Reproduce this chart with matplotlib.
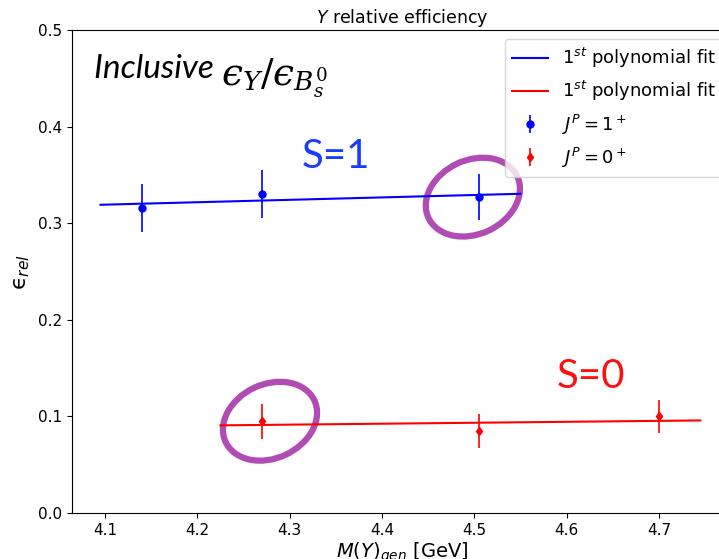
import numpy as np
import matplotlib.pyplot as plt
from matplotlib.patches import Ellipse
from matplotlib.transforms import ScaledTranslation

# J^P = 1+ (S=1) points
m_s1 = [4.14, 4.27, 4.505]
eff_s1 = [0.316, 0.330, 0.327]
err_s1 = [0.025, 0.025, 0.024]

# J^P = 0+ (S=0) points
m_s0 = [4.27, 4.505, 4.70]
eff_s0 = [0.095, 0.085, 0.100]
err_s0 = [0.018, 0.018, 0.017]

fit_pad = 0.045
blue = 'blue'
red = 'red'
purple = '#b04cb4'
eps = '\u03f5'  # lunate epsilon

fig = plt.figure(figsize=(7.19, 5.59), dpi=100)
ax = fig.add_axes([0.100, 0.0823, 0.919, 0.864])

# 1st order polynomial fits
p1 = np.polyfit(m_s1, eff_s1, 1)
x1 = np.linspace(min(m_s1) - fit_pad, max(m_s1) + fit_pad, 50)
ax.plot(x1, np.polyval(p1, x1), color=blue, lw=1.5, label=r'1$^{st}$ polynomial fit')
p0 = np.polyfit(m_s0, eff_s0, 1)
x0 = np.linspace(min(m_s0) - fit_pad, max(m_s0) + fit_pad, 50)
ax.plot(x0, np.polyval(p0, x0), color=red, lw=1.5, label=r'1$^{st}$ polynomial fit')

ax.errorbar(m_s1, eff_s1, yerr=err_s1, fmt='o', color=blue, ms=5, elinewidth=1.2,
            label=r'$J^P = 1^+$')
ax.errorbar(m_s0, eff_s0, yerr=err_s0, fmt='d', color=red, ms=4.5, elinewidth=1.2,
            label=r'$J^P = 0^+$')

ax.set_xlim(4.064, 4.78)
ax.set_ylim(0, 0.5)
ax.set_xticks([4.1, 4.2, 4.3, 4.4, 4.5, 4.6, 4.7])
ax.tick_params(labelsize=11)
ax.set_title(r'$Y$ relative efficiency', fontsize=12.5, pad=5)
ax.set_xlabel(r'$M(Y)_{gen}$ [GeV]', fontsize=14, labelpad=2)
ax.set_ylabel(r'$\mathrm{' + eps + r'}_{rel}$', fontsize=16)
ax.legend(loc='upper right', fontsize=13, framealpha=0.8, handlelength=2.0)

# annotations
t1 = ax.text(0.033, 0.9, 'Inclusive ', transform=ax.transAxes,
             fontsize=24, fontstyle='italic', family='Lato', va='baseline', ha='left')
ax.annotate('$' + eps + '_Y/' + eps + '_{B_s^0}$', xy=(1, 0), xycoords=t1,
            va='baseline', ha='left', fontsize=27, math_fontfamily='dejavuserif')
ax.text(4.35, 0.369, 'S=1', color='#1a3cff', fontsize=29, family='Lato',
        ha='center', va='center')
ax.text(4.627, 0.141, 'S=0', color='#ff1010', fontsize=29, family='Lato',
        ha='center', va='center')

# highlight rings around selected points
for (mx, my, dx) in [(m_s1[2], eff_s1[2], -0.06), (m_s0[0], eff_s0[0], 0.08)]:
    tr = fig.dpi_scale_trans + ScaledTranslation(mx, my, ax.transData)
    ell = Ellipse((dx, 0.0), 0.98, 0.74, angle=25, transform=tr, fill=False,
                  edgecolor=purple, lw=4.5, clip_on=False)
    ax.add_patch(ell)

fig.savefig('out.png', dpi=100)
